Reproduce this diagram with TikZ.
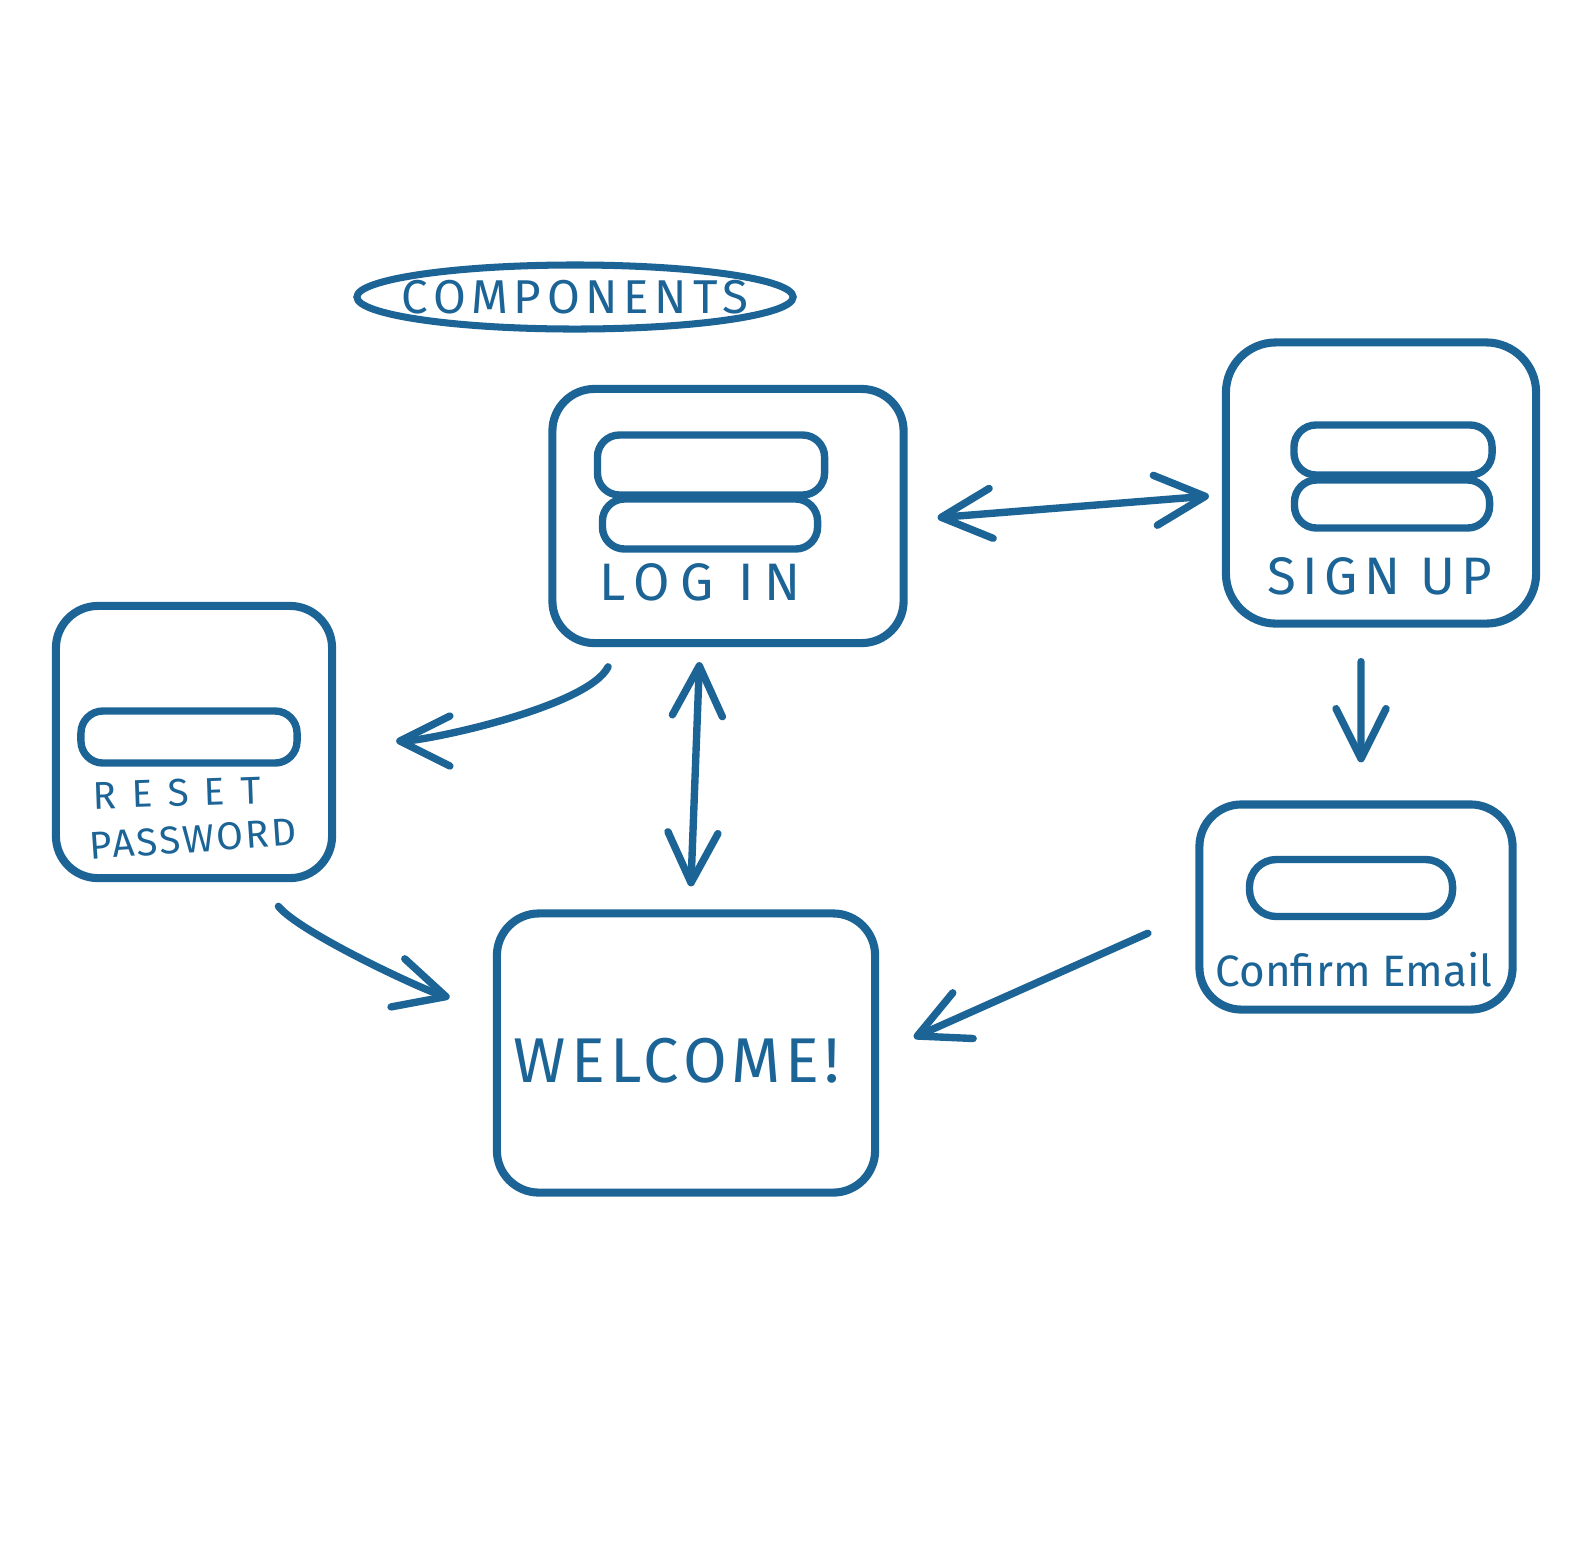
\documentclass[tikz,border=0pt]{standalone}
\usepackage{fontspec}
\setmainfont{Fira Sans}
\usetikzlibrary{arrows.meta}
\definecolor{ink}{RGB}{28,100,150}
\tikzset{
  box/.style={draw=ink, line width=2.3pt, rounded corners=0.42cm, inner sep=0pt},
  field/.style={draw=ink, line width=2.1pt, rounded corners=0.22cm, inner sep=0pt},
  lbl/.style={text=ink, inner sep=0pt},
  barb/.tip={Straight Barb[length=0.5cm,width=0.5cm,round]},
  arr/.style={draw=ink, line width=2.1pt, line cap=round, -barb},
  darr/.style={draw=ink, line width=2.1pt, line cap=round, barb-barb},
}
\begin{document}
\begin{tikzpicture}[x=0.01cm,y=-0.01cm]
\useasboundingbox[fill=white] (0,0) rectangle (1592,1554);

% title
\node[lbl, font=\fontsize{13.5}{16}\selectfont\addfontfeature{LetterSpace=12}] (title) at (575,297) {COMPONENTS};
\draw[draw=ink, line width=2pt] (title.center) ellipse [x radius=2.18cm, y radius=0.32cm];

% Log In
\node[box, minimum width=3.51cm, minimum height=2.54cm] (login) at (728,516) {};
\node[field, minimum width=2.27cm, minimum height=0.6cm] (lf1) at (711,465) {};
\node[field, minimum width=2.15cm, minimum height=0.5cm] (lf2) at (710,524) {};
\node[lbl, font=\fontsize{15}{18}\selectfont\addfontfeature{LetterSpace=20}] (ltxt) at (700,582) {LOG IN};

% Sign Up
\node[box, rounded corners=0.5cm, minimum width=3.10cm, minimum height=2.81cm] (signup) at (1381,483) {};
\node[field, minimum width=1.98cm, minimum height=0.5cm] (sf1) at (1393,450) {};
\node[field, minimum width=1.95cm, minimum height=0.48cm] (sf2) at (1392,504) {};
\node[lbl, font=\fontsize{15}{18}\selectfont\addfontfeature{LetterSpace=12}] (stxt) at (1380,576) {SIGN UP};

% Reset Password
\node[box, minimum width=2.76cm, minimum height=2.72cm] (reset) at (194,742) {};
\node[field, minimum width=2.16cm, minimum height=0.52cm] (rf1) at (189,737) {};
\node[lbl, rotate=2, font=\fontsize{11}{13}\selectfont\addfontfeature{LetterSpace=40}] (rtxt1) at (177,793) {RESET};
\node[lbl, rotate=4, font=\fontsize{11}{13}\selectfont\addfontfeature{LetterSpace=6}] (rtxt2) at (193,839) {PASSWORD};

% Welcome
\node[box, minimum width=3.78cm, minimum height=2.79cm] (welcome) at (686,1053) {};
\node[lbl, font=\fontsize{18}{21}\selectfont\addfontfeature{LetterSpace=8}] (wtxt) at (677,1061) {WELCOME!};

% Confirm Email
\node[box, minimum width=3.13cm, minimum height=2.05cm] (confirm) at (1356,907) {};
\node[field, rounded corners=0.27cm, minimum width=2.03cm, minimum height=0.57cm] (cf1) at (1351,888) {};
\node[lbl, font=\fontsize{12.5}{15}\selectfont] (ctxt) at (1354,970) {Confirm Email};

% connectors
\draw[darr, shorten <=0.3cm, shorten >=0.13cm] ([yshift=-0.04cm]login.east) -- ([yshift=-0.12cm]signup.west);
\draw[arr, shorten <=0.22cm, shorten >=0.6cm] ([xshift=-1.1cm]login.south) .. controls ++(-30,60) and ++(90,0) .. ([yshift=0.01cm]reset.east);
\draw[darr, shorten <=0.15cm, shorten >=0.23cm] ([xshift=-0.28cm]login.south) -- ([xshift=0.04cm]welcome.north);
\draw[arr, shorten <=0.34cm, shorten >=0.38cm] ([xshift=-0.2cm]signup.south) -- ([xshift=0.05cm]confirm.north);
\draw[arr, shorten <=0.31cm, shorten >=0.45cm] ([xshift=0.65cm]reset.south) .. controls ++(40,50) and ++(-70,-20) .. ([yshift=0.43cm]welcome.west);
\draw[arr, shorten <=0.52cm, shorten >=0.38cm] ([yshift=-0.05cm]confirm.west) -- (welcome.east);
\end{tikzpicture}
\end{document}
